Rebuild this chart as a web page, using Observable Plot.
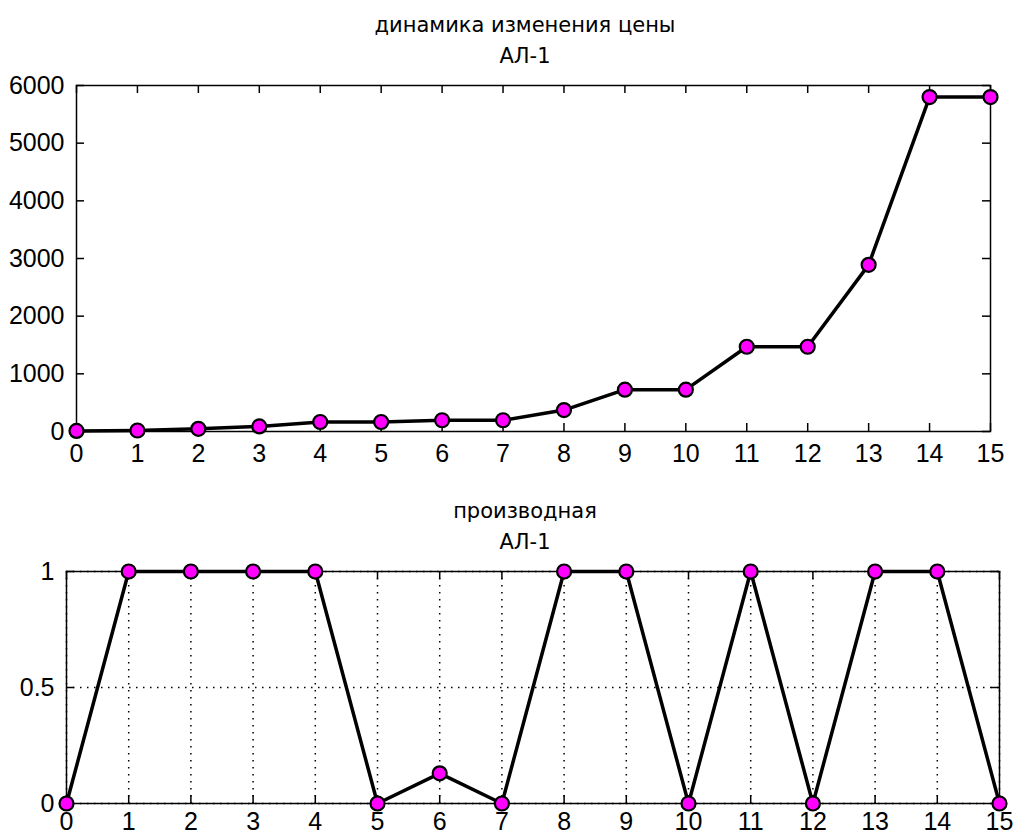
<!DOCTYPE html>
<html><head><meta charset="utf-8">
<script src="https://cdn.jsdelivr.net/npm/d3@7"></script>
<script src="https://cdn.jsdelivr.net/npm/@observablehq/plot@0.6"></script>
<style>
body{margin:0;background:#fff;}
#wrap{position:relative;width:1013px;height:836px;overflow:hidden;background:#fff;}
.title{position:absolute;left:325px;width:400px;text-align:center;font-family:"DejaVu Sans",sans-serif;font-size:21px;line-height:31px;color:#000;white-space:nowrap;}
#wrap svg{position:absolute;left:0;}
</style></head><body>
<div id="wrap">
<div class="title" style="top:10px">динамика изменения цены<br>АЛ-1</div>
<div class="title" style="top:496px">производная<br>АЛ-1</div>
</div>
<script>
const xValues = [0, 1, 2, 3, 4, 5, 6, 7, 8, 9, 10, 11, 12, 13, 14, 15];
const priceValues = [10, 17, 46, 88, 165, 165, 195, 195, 372, 725, 725, 1470, 1470, 2890, 5800, 5800];
const derivValues = [0, 1, 1, 1, 1, 0, 0.13, 0, 1, 1, 0, 1, 0, 1, 1, 0];
const xTicks = [0, 1, 2, 3, 4, 5, 6, 7, 8, 9, 10, 11, 12, 13, 14, 15];
const priceTicks = [0, 1000, 2000, 3000, 4000, 5000, 6000];
const derivTicks = [0, 0.5, 1];
const derivTickLabels = ["0", "0.5", "1"];

const W = 1013;
const tickFont = {fontFamily: '"Liberation Sans",Arial,sans-serif', fontSize: 25};

function chart({values, yDomain, yTicks, yFormat, top, height, mt, mb, ml, mr, grid, xPad}) {
  const fw = W - ml - mr, fh = height - mt - mb;
  const data = xValues.map((x, i) => ({x, y: values[i]}));
  const line = {stroke: "black", strokeWidth: 1.5};
  const marks = [];
  if (grid) {
    marks.push(Plot.gridX(xTicks, {stroke: "black", strokeOpacity: 1, strokeWidth: 1.5, strokeDasharray: "1.5,5.5"}));
    marks.push(Plot.gridY(yTicks, {stroke: "black", strokeOpacity: 1, strokeWidth: 1.5, strokeDasharray: "1.5,5.5"}));
  }
  marks.push(
    Plot.ruleX(xTicks, {x: d => d, insetTop: fh - 8, ...line}),
    Plot.ruleX(xTicks, {x: d => d, insetBottom: fh - 8, ...line}),
    Plot.ruleY(yTicks, {y: d => d, insetRight: fw - 8, ...line}),
    Plot.ruleY(yTicks, {y: d => d, insetLeft: fw - 8, ...line}),
    Plot.frame(line),
    Plot.axisX(xTicks, {tickSize: 0, tickPadding: xPad, label: null, ...tickFont}),
    Plot.axisY(yTicks, {tickSize: 0, tickPadding: 12, label: null, tickFormat: yFormat, ...tickFont}),
    Plot.line(data, {x: "x", y: "y", stroke: "black", strokeWidth: 3.5}),
    Plot.dot(data, {x: "x", y: "y", r: 7, fill: "#ff00ff", stroke: "black", strokeWidth: 2.2})
  );
  const svg = Plot.plot({
    width: W, height,
    marginTop: mt, marginBottom: mb, marginLeft: ml, marginRight: mr,
    x: {domain: [0, 15], axis: null},
    y: {domain: yDomain, axis: null},
    style: {background: "transparent", overflow: "visible", color: "black"},
    marks
  });
  svg.style.top = top + "px";
  document.getElementById("wrap").appendChild(svg);
}

chart({values: priceValues, yDomain: [0, 6000], yTicks: priceTicks, yFormat: d => String(d),
  top: 0, height: 480, mt: 85, mb: 49, ml: 76, mr: 23, grid: false, xPad: 13});
chart({values: derivValues, yDomain: [0, 1], yTicks: derivTicks, yFormat: d => derivTickLabels[derivTicks.indexOf(d)],
  top: 480, height: 356, mt: 91, mb: 33, ml: 66, mr: 14, grid: true, xPad: 9});
</script>
</body></html>
